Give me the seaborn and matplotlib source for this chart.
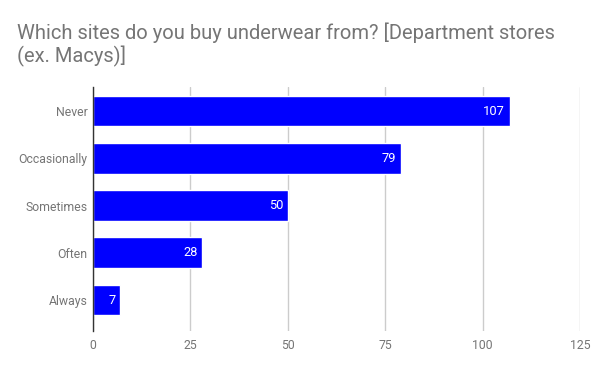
import matplotlib
matplotlib.use("Agg")
import matplotlib.pyplot as plt
import seaborn as sns
import pandas as pd

categories = ["Never", "Occasionally", "Sometimes", "Often", "Always"]
values = [107, 79, 50, 28, 7]
xticks = [0, 25, 50, 75, 100, 125]

sns.set_theme(style="white")
plt.rcParams['font.family'] = ['Roboto', 'DejaVu Sans']

df = pd.DataFrame({"cat": categories, "val": values})

fig = plt.figure(figsize=(6, 3.71), dpi=100)
ax = fig.add_axes([93/600, 1 - 331/371, (580-93)/600, (331-87)/371])

sns.barplot(data=df, x="val", y="cat", orient="h", color="#0000ff",
            saturation=1, width=0.65, ax=ax, order=categories)

ax.set_xlim(0, 125)
ax.set_ylim(4.656, -0.508)
ax.set_xticks(xticks)
ax.set_xticklabels([str(t) for t in xticks])
ax.xaxis.grid(True, color="#cccccc", linewidth=1)
ax.set_axisbelow(True)
for s in ["top", "right", "bottom"]:
    ax.spines[s].set_visible(False)
ax.spines["left"].set_color("#333333")
ax.spines["left"].set_linewidth(1)
ax.set_xlabel("")
ax.set_ylabel("")
ax.tick_params(axis="both", length=0, labelsize=8.8, labelcolor="#757575")
ax.tick_params(axis="y", pad=4)
ax.tick_params(axis="x", pad=6)

for p, v in zip(ax.patches, values):
    y = p.get_y() + p.get_height() / 2
    ax.text(p.get_width() - 1.2, y, str(v), ha="right", va="center",
            color="white", fontsize=9.3)

fig.text(17/600, 1 - 22/371, "Which sites do you buy underwear from? [Department stores\n(ex. Macys)]",
         ha="left", va="top", fontsize=14.5, color="#757575", linespacing=1.2)

fig.savefig("out.png", dpi=100, facecolor="white")
